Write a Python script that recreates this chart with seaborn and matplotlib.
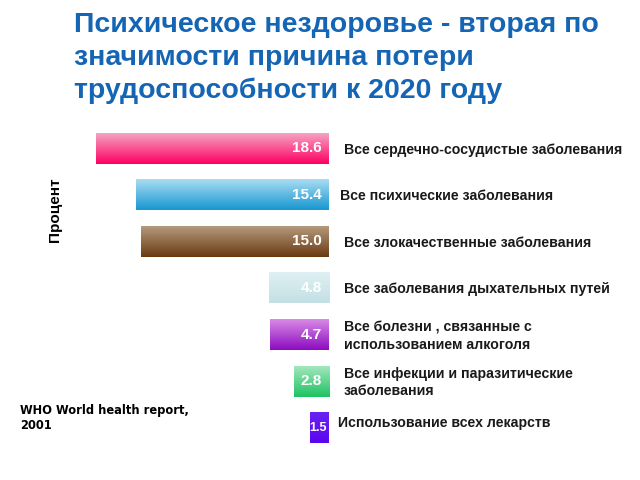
import numpy as np
import pandas as pd
import matplotlib
matplotlib.use("Agg")
import matplotlib.pyplot as plt
import matplotlib.transforms as mtransforms
from matplotlib.colors import to_rgb
import seaborn as sns

# ---- data ----
categories = [
    "Все сердечно-сосудистые заболевания",
    "Все психические заболевания",
    "Все злокачественные заболевания",
    "Все заболевания дыхательных путей",
    "Все болезни , связанные с\nиспользованием алкоголя",
    "Все инфекции и паразитические\nзаболевания",
    "Использование всех лекарств",
]
values = [18.6, 15.4, 15.0, 4.8, 4.7, 2.8, 1.5]
value_labels = ["18.6", "15.4", "15.0", "4.8", "4.7", "2.8", "1.5"]
top_colors = ["#f5a3c3", "#a9dcf2", "#b59a7c", "#dff0f3", "#d98ae6", "#a3e6bd", "#6a22f2"]
bottom_colors = ["#ff0063", "#1797d0", "#6a3a12", "#c3e0e4", "#8c0cc0", "#1fc262", "#5a06ee"]
title = "Психическое нездоровье - вторая по\nзначимости причина потери\nтрудоспособности к 2020 году"
ylabel = "Процент"
source = "WHO World health report,\n2001"

sns.set_theme(style="white")
plt.rcParams["font.family"] = ["Liberation Sans", "DejaVu Sans"]

df = pd.DataFrame({"cat": categories, "val": values})

fig = plt.figure(figsize=(6.4, 4.8), dpi=100)
right_px = 329
ax = fig.add_axes([70 / 640, 1 - 451 / 480, (right_px - 70) / 640, 326 / 480])
sns.barplot(data=df, x="val", y="cat", orient="h", ax=ax, width=0.66,
            color="white", edgecolor="none", saturation=1)

# gradient fill for each bar
for p, c1, c2 in zip(ax.patches, top_colors, bottom_colors):
    x0, y0 = p.get_x(), p.get_y()
    w, h = p.get_width(), p.get_height()
    t = np.linspace(0, 1, 64)[:, None]
    a, b = np.array(to_rgb(c1)), np.array(to_rgb(c2))
    grad = (a[None, None, :] * (1 - t[..., None]) + b[None, None, :] * t[..., None])
    grad = np.repeat(grad, 2, axis=1)
    ax.imshow(grad, extent=[x0, x0 + w, y0 + h, y0], origin="upper",
              aspect="auto", interpolation="bilinear", zorder=2)

ax.set_xlim(20.7, 0)
ax.set_ylim(6.5, -0.5)
ax.axis("off")

# value labels inside bars
for i, (v, lab) in enumerate(zip(values, value_labels)):
    small = v < 2
    ax.text(0.15 if small else 0.55, i, lab, ha="right", va="center", color="white",
            fontsize=9 if small else 11, fontweight="bold", zorder=3)

# category labels
trans = mtransforms.blended_transform_factory(fig.transFigure, ax.transData)
label_x = [344, 340, 344, 344, 344, 344, 338]
for i, (cat, lx) in enumerate(zip(categories, label_x)):
    ax.text(lx / 640, i + (-0.1 if i == 6 else 0.03), cat, transform=trans,
            ha="left", va="center", fontsize=10.2, fontweight="bold",
            color="#1a1a1a", linespacing=1.3)

fig.text(74 / 640, 1 - 12 / 480, title, ha="left", va="top", fontsize=20.5,
         fontweight="bold", color="#1565b5", linespacing=1.33)
fig.text(55 / 640, 1 - 210 / 480, ylabel, rotation=90, ha="center", va="center",
         fontsize=11, fontweight="bold", color="black")
fig.text(20 / 640, 1 - 418 / 480, source, ha="left", va="center",
         fontsize=8.3, fontweight="bold", color="black",
         family=["DejaVu Sans"], linespacing=1.2)

fig.savefig("out.png", dpi=100, facecolor="white")
